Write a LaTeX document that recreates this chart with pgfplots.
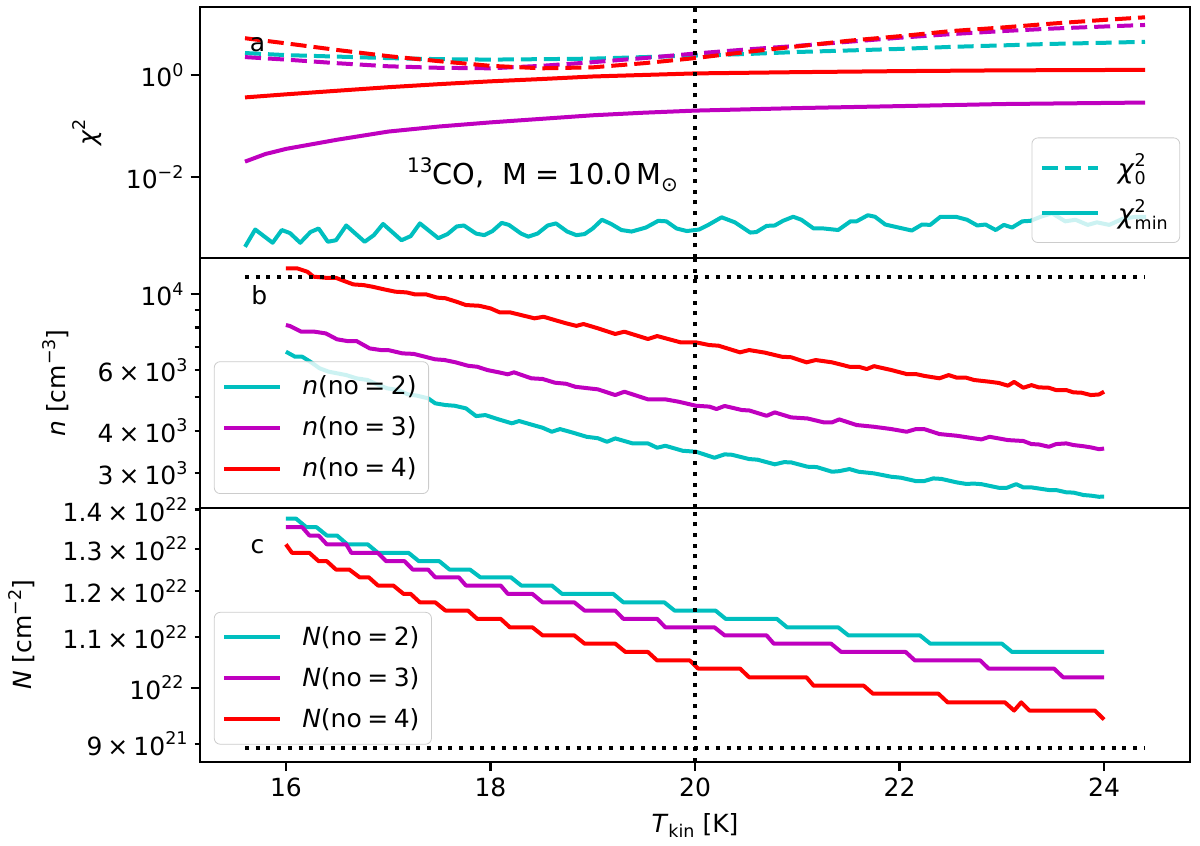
\documentclass[border=0pt]{standalone}
\usepackage{fontspec}
\setmainfont{DejaVu Sans}
\usepackage{pgfplots}
\pgfplotsset{compat=1.18}
\definecolor{mc}{rgb}{0,0.75,0.75}
\definecolor{mm}{rgb}{0.75,0,0.75}
\definecolor{mr}{rgb}{1,0,0}
\newcommand{\su}[1]{\raisebox{0.42em}{\fontsize{8.75}{9}\selectfont #1}}
\newcommand{\sd}[1]{\raisebox{-0.22em}{\fontsize{8.75}{9}\selectfont #1}}
\pgfplotsset{
  mypanel/.style={
    scale only axis, width=495pt,
    xmin=15.16, xmax=24.84,
    axis line style={line width=1.07pt},
    every tick/.style={black, line width=1.07pt},
    major tick length=4.7pt, minor tick length=2.7pt,
    tick align=outside, xtick pos=lower, ytick pos=left,
    legend cell align=left,
    legend image code/.code={\draw[##1] (0pt,0pt) -- (28pt,0pt);},
    legend style={draw=black!20, fill=white, fill opacity=0.8, text opacity=1,
      rounded corners=3pt, inner xsep=4pt, inner ysep=5pt, row sep=5.5pt, column sep=8pt},
  },
}
\tikzset{
  dl/.style={line width=2pt, dash pattern=on 8pt off 3.5pt},
  sl/.style={line width=2pt, line join=round},
  dt/.style={black, line width=2pt, dash pattern=on 2pt off 3.35pt},
}
\begin{document}
\begin{tikzpicture}[font=\fontsize{12.5}{15}\selectfont]
\path[use as bounding box] (0,0) rectangle (600pt,423pt);
% ---------------- panel a ----------------
\begin{axis}[ymode=log, mypanel, at={(100pt,294pt)}, height=125.5pt,
  ymin=2.58e-4, ymax=21.5, xtick=\empty,
  ytick={0.01,1}, yticklabels={10\su{−2},10\su{0}},
  ylabel={\textit{χ}\su{2}},
  ylabel style={at={(axis description cs:-0.114,0.5)}, anchor=center},
  legend style={at={(0.990,0.06)}, anchor=south east, row sep=5pt, inner ysep=6pt, column sep=7pt,
    font=\fontsize{13.5}{16}\selectfont}]
\addplot[mc, dl] coordinates {(15.6,2.69)(16.0,2.45)(16.5,2.29)(17.0,2.14)(17.5,2.04)(18.0,2.00)(18.5,2.04)(19.0,2.09)(19.5,2.24)(20.0,2.40)(20.5,2.57)(21.0,2.82)(21.5,3.02)(22.0,3.24)(22.5,3.55)(23.0,3.80)(23.5,4.07)(24.0,4.27)(24.4,4.47)};
\addlegendentry{\textit{χ}\rlap{\su{2}}\sd{0}}
\addplot[mc, sl] coordinates {(15.60,4.27e-4)(15.70,9.33e-4)(15.87,5.13e-4)(15.96,9.12e-4)(16.04,7.94e-4)(16.14,5.13e-4)(16.24,8.32e-4)(16.32,9.77e-4)(16.41,5.37e-4)(16.49,5.75e-4)(16.59,1.12e-3)(16.77,5.37e-4)(16.86,7.24e-4)(16.95,1.20e-3)(17.13,5.75e-4)(17.22,6.92e-4)(17.31,1.23e-3)(17.49,6.31e-4)(17.58,7.59e-4)(17.67,1.07e-3)(17.74,1.12e-3)(17.86,7.76e-4)(17.94,7.24e-4)(18.02,8.71e-4)(18.11,1.26e-3)(18.18,1.15e-3)(18.30,7.76e-4)(18.37,6.76e-4)(18.46,7.76e-4)(18.56,1.12e-3)(18.64,1.23e-3)(18.75,8.51e-4)(18.84,7.24e-4)(18.92,7.59e-4)(19.00,9.77e-4)(19.09,1.45e-3)(19.18,1.20e-3)(19.28,9.12e-4)(19.38,8.51e-4)(19.52,1.02e-3)(19.64,1.38e-3)(19.72,1.35e-3)(19.82,9.77e-4)(19.92,8.71e-4)(20.04,9.33e-4)(20.13,1.15e-3)(20.26,1.62e-3)(20.39,1.29e-3)(20.54,8.13e-4)(20.60,8.32e-4)(20.70,1.10e-3)(20.78,1.12e-3)(20.86,1.38e-3)(20.96,1.66e-3)(21.04,1.45e-3)(21.16,9.77e-4)(21.26,9.77e-4)(21.40,9.12e-4)(21.52,1.35e-3)(21.58,1.35e-3)(21.69,1.78e-3)(21.76,1.66e-3)(21.86,1.17e-3)(21.99,1.02e-3)(22.12,8.91e-4)(22.22,1.17e-3)(22.30,1.15e-3)(22.40,1.66e-3)(22.55,1.66e-3)(22.66,1.45e-3)(22.76,1.12e-3)(22.84,1.17e-3)(22.94,9.12e-4)(23.02,1.15e-3)(23.10,1.02e-3)(23.20,1.35e-3)(23.28,1.38e-3)(23.38,1.66e-3)(23.49,1.95e-3)(23.62,1.35e-3)(23.72,1.45e-3)(23.84,1.15e-3)(23.93,1.29e-3)(24.05,1.15e-3)(24.18,1.51e-3)(24.31,1.66e-3)(24.41,1.66e-3)};
\addlegendentry{\textit{χ}\rlap{\su{2}}\sd{min}}
\addplot[mm, dl, forget plot] coordinates {(15.6,2.24)(16.0,2.00)(16.5,1.70)(17.0,1.48)(17.5,1.38)(18.0,1.35)(18.5,1.51)(19.0,1.78)(19.5,2.14)(20.0,2.63)(20.5,3.16)(21.0,3.72)(21.5,4.47)(22.0,5.37)(22.5,6.31)(23.0,7.24)(23.5,8.13)(24.0,8.91)(24.4,9.55)};
\addplot[mm, sl, forget plot] coordinates {(15.6,0.0200)(15.8,0.0282)(16.0,0.0355)(16.5,0.0537)(17.0,0.0776)(17.5,0.0977)(18.0,0.1175)(18.5,0.138)(19.0,0.162)(19.5,0.182)(20.0,0.200)(21.0,0.224)(22.0,0.245)(23.0,0.269)(24.4,0.288)};
\addplot[mr, dl, forget plot] coordinates {(15.6,5.25)(16.0,4.17)(16.5,3.09)(17.0,2.34)(17.5,1.86)(18.0,1.51)(18.5,1.35)(19.0,1.41)(19.5,1.70)(20.0,2.14)(20.5,2.82)(21.0,3.63)(21.5,4.68)(22.0,5.75)(22.5,7.24)(23.0,8.51)(23.5,10.2)(24.0,12.0)(24.4,13.5)};
\addplot[mr, sl, forget plot] coordinates {(15.6,0.363)(16.0,0.417)(16.5,0.490)(17.0,0.575)(17.5,0.661)(18.0,0.750)(18.5,0.832)(19.0,0.933)(19.5,1.0)(20.0,1.072)(21.0,1.135)(22.0,1.189)(23.0,1.230)(24.4,1.259)};
\addplot[dt, forget plot] coordinates {(20,2.58e-4)(20,21.5)};
\node[anchor=base west, font=\fontsize{14.4}{17}\selectfont] at (axis description cs:0.202,0.291) {\raisebox{0.42em}{\fontsize{10}{11}\selectfont 13}CO,\ \ M\hspace{0.28em}=\hspace{0.28em}10.0\hspace{0.15em}M\raisebox{-0.22em}{\fontsize{10}{11}\selectfont ⊙}};
\node at (axis description cs:0.058,0.849) {a};
\end{axis}
% ---------------- panel b ----------------
\begin{axis}[ymode=log, mypanel, at={(100pt,169pt)}, height=125pt,
  ymin=2377, ymax=12770, xtick=\empty,
  ytick={10000}, yticklabels={10\su{4}},
  minor ytick={5000,7000,8000,9000},
  extra y ticks={3000,4000,6000},
  extra y tick labels={3\hspace{0.2em}×\hspace{0.2em}10\su{3},4\hspace{0.2em}×\hspace{0.2em}10\su{3},6\hspace{0.2em}×\hspace{0.2em}10\su{3}},
  extra y tick style={major tick length=2.7pt},
  ylabel={\textit{n} [cm\su{−3}]},
  ylabel style={at={(axis description cs:-0.146,0.5)}, anchor=center},
  legend style={at={(0.014,0.056)}, anchor=south west}]
\addplot[mc, sl] coordinates {(16.0,6800)(16.09,6573)(16.16,6573)(16.24,6353)(16.33,6079)(16.42,5943)(16.50,5880)(16.59,5810)(16.69,5685)(16.80,5620)(16.89,5460)(16.99,5315)(17.10,5253)(17.19,5105)(17.28,5060)(17.39,4970)(17.46,4805)(17.56,4750)(17.65,4727)(17.76,4645)(17.86,4410)(17.95,4440)(18.08,4313)(18.21,4200)(18.28,4266)(18.40,4165)(18.51,4077)(18.60,3969)(18.68,4041)(18.81,3942)(18.94,3837)(19.05,3800)(19.14,3710)(19.22,3796)(19.39,3670)(19.54,3670)(19.63,3564)(19.71,3612)(19.88,3492)(20.01,3470)(20.19,3332)(20.29,3409)(20.36,3400)(20.53,3303)(20.61,3290)(20.78,3188)(20.87,3235)(20.94,3230)(21.10,3137)(21.19,3130)(21.34,3033)(21.41,3045)(21.51,3088)(21.60,3033)(21.75,3000)(21.92,2932)(22.01,2915)(22.16,2848)(22.24,2848)(22.33,2900)(22.41,2890)(22.56,2823)(22.65,2795)(22.73,2800)(22.80,2790)(22.97,2723)(23.05,2723)(23.14,2790)(23.21,2730)(23.29,2730)(23.46,2682)(23.53,2682)(23.63,2641)(23.70,2636)(23.80,2593)(23.87,2583)(23.95,2563)(24.0,2565)};
\addlegendentry{\textit{n}(no\hspace{0.22em}=\hspace{0.22em}2)}
\addplot[mm, sl] coordinates {(16.0,8135)(16.04,8080)(16.15,7780)(16.28,7780)(16.39,7690)(16.50,7390)(16.60,7305)(16.69,7305)(16.82,6950)(16.93,6875)(17.0,6875)(17.14,6723)(17.25,6700)(17.36,6573)(17.46,6460)(17.55,6430)(17.66,6330)(17.78,6187)(17.87,6145)(17.97,6010)(18.08,5920)(18.17,5840)(18.23,5920)(18.33,5780)(18.40,5685)(18.51,5660)(18.63,5520)(18.74,5480)(18.83,5370)(18.96,5315)(19.05,5279)(19.22,5080)(19.31,5195)(19.54,4935)(19.71,4935)(19.84,4857)(20.01,4727)(20.14,4700)(20.21,4624)(20.29,4720)(20.46,4592)(20.53,4580)(20.70,4418)(20.78,4521)(20.94,4371)(21.10,4340)(21.26,4227)(21.34,4227)(21.41,4313)(21.58,4152)(21.75,4104)(21.92,4041)(22.07,3969)(22.16,4041)(22.24,4041)(22.39,3908)(22.56,3864)(22.73,3796)(22.80,3770)(22.88,3837)(23.06,3753)(23.21,3730)(23.29,3653)(23.36,3645)(23.46,3587)(23.53,3653)(23.63,3670)(23.70,3630)(23.80,3600)(23.87,3573)(23.95,3530)(24.0,3545)};
\addlegendentry{\textit{n}(no\hspace{0.22em}=\hspace{0.22em}3)}
\addplot[mr, sl] coordinates {(16.0,11910)(16.11,11910)(16.21,11640)(16.27,11260)(16.40,11170)(16.49,11170)(16.59,10880)(16.66,10690)(16.76,10640)(16.85,10520)(16.96,10340)(17.07,10180)(17.18,10130)(17.26,10000)(17.37,10000)(17.48,9780)(17.56,9740)(17.67,9510)(17.76,9305)(17.89,9260)(18.0,9100)(18.09,8860)(18.19,8860)(18.30,8700)(18.43,8510)(18.52,8600)(18.63,8410)(18.74,8230)(18.84,8090)(18.91,8190)(19.05,7960)(19.22,7660)(19.31,7780)(19.54,7405)(19.63,7555)(19.86,7240)(20.01,7240)(20.14,7110)(20.23,7080)(20.44,6770)(20.53,6875)(20.68,6760)(20.85,6573)(20.94,6550)(21.09,6330)(21.18,6430)(21.34,6330)(21.51,6145)(21.60,6145)(21.68,6050)(21.75,6170)(21.92,6010)(22.07,5850)(22.16,5850)(22.24,5780)(22.39,5685)(22.48,5810)(22.56,5710)(22.65,5710)(22.73,5620)(22.88,5556)(22.97,5510)(23.06,5410)(23.12,5550)(23.21,5335)(23.29,5430)(23.36,5350)(23.46,5335)(23.53,5253)(23.63,5253)(23.70,5173)(23.78,5160)(23.87,5080)(23.95,5100)(24.0,5195)};
\addlegendentry{\textit{n}(no\hspace{0.22em}=\hspace{0.22em}4)}
\addplot[dt, forget plot] coordinates {(15.6,11256)(24.4,11256)};
\addplot[dt, forget plot] coordinates {(20,2377)(20,12770)};
\node at (axis description cs:0.060,0.852) {b};
\end{axis}
% ---------------- panel c ----------------
\begin{axis}[ymode=log, mypanel, at={(100pt,42pt)}, height=127pt,
  ymin=8.70e21, ymax=1.405e22,
  xtick={16,18,20,22,24}, xticklabels={16,18,20,22,24},
  ytick={1e22}, yticklabels={10\su{22}},
  extra y ticks={9e21,1.1e22,1.2e22,1.3e22,1.4e22},
  extra y tick labels={9\hspace{0.2em}×\hspace{0.2em}10\su{21},1.1\hspace{0.2em}×\hspace{0.2em}10\su{22},1.2\hspace{0.2em}×\hspace{0.2em}10\su{22},1.3\hspace{0.2em}×\hspace{0.2em}10\su{22},1.4\hspace{0.2em}×\hspace{0.2em}10\su{22}},
  extra y tick style={major tick length=2.7pt},
  ylabel={\textit{N} [cm\su{−2}]},
  ylabel style={at={(axis description cs:-0.180,0.5)}, anchor=center},
  xlabel={\textit{T}\sd{kin} [K]},
  xlabel style={at={(axis description cs:0.5,-0.252)}, anchor=center},
  legend style={at={(0.014,0.067)}, anchor=south west}]
\addplot[mc, sl] coordinates {(16.0,1.376e22)(16.1,1.376e22)(16.2,1.354e22)(16.3,1.354e22)(16.4,1.333e22)(16.5,1.333e22)(16.6,1.311e22)(16.8,1.311e22)(16.9,1.290e22)(17.2,1.290e22)(17.3,1.270e22)(17.5,1.270e22)(17.6,1.250e22)(17.8,1.250e22)(17.9,1.232e22)(18.2,1.232e22)(18.3,1.213e22)(18.6,1.213e22)(18.7,1.194e22)(19.2,1.194e22)(19.3,1.175e22)(19.7,1.175e22)(19.8,1.157e22)(20.2,1.157e22)(20.3,1.139e22)(20.8,1.139e22)(20.9,1.121e22)(21.4,1.121e22)(21.5,1.104e22)(22.2,1.104e22)(22.3,1.087e22)(23.0,1.087e22)(23.1,1.070e22)(24.0,1.070e22)};
\addlegendentry{\textit{N}(no\hspace{0.22em}=\hspace{0.22em}2)}
\addplot[mm, sl] coordinates {(16.0,1.354e22)(16.16,1.354e22)(16.23,1.333e22)(16.32,1.333e22)(16.40,1.311e22)(16.59,1.311e22)(16.64,1.290e22)(16.90,1.290e22)(16.98,1.270e22)(17.16,1.270e22)(17.24,1.250e22)(17.39,1.250e22)(17.46,1.232e22)(17.69,1.232e22)(17.76,1.213e22)(18.10,1.213e22)(18.17,1.194e22)(18.41,1.194e22)(18.51,1.175e22)(18.82,1.175e22)(18.92,1.157e22)(19.22,1.157e22)(19.30,1.139e22)(19.63,1.139e22)(19.71,1.121e22)(20.19,1.121e22)(20.29,1.104e22)(20.70,1.104e22)(20.77,1.087e22)(21.33,1.087e22)(21.43,1.070e22)(22.06,1.070e22)(22.15,1.053e22)(22.79,1.053e22)(22.87,1.037e22)(23.51,1.037e22)(23.60,1.020e22)(24.0,1.020e22)};
\addlegendentry{\textit{N}(no\hspace{0.22em}=\hspace{0.22em}3)}
\addplot[mr, sl] coordinates {(16.0,1.311e22)(16.06,1.290e22)(16.23,1.290e22)(16.32,1.270e22)(16.40,1.270e22)(16.49,1.250e22)(16.62,1.250e22)(16.72,1.232e22)(16.81,1.232e22)(16.90,1.213e22)(17.05,1.213e22)(17.15,1.194e22)(17.22,1.194e22)(17.31,1.175e22)(17.46,1.175e22)(17.56,1.157e22)(17.78,1.157e22)(17.87,1.139e22)(18.10,1.139e22)(18.19,1.121e22)(18.41,1.121e22)(18.51,1.104e22)(18.82,1.104e22)(18.92,1.087e22)(19.22,1.087e22)(19.32,1.070e22)(19.54,1.070e22)(19.63,1.053e22)(19.95,1.053e22)(20.03,1.037e22)(20.44,1.037e22)(20.53,1.020e22)(21.09,1.020e22)(21.16,1.004e22)(21.65,1.004e22)(21.74,0.989e22)(22.38,0.989e22)(22.47,0.973e22)(23.03,0.973e22)(23.12,0.958e22)(23.19,0.973e22)(23.27,0.958e22)(23.91,0.958e22)(24.0,0.942e22)};
\addlegendentry{\textit{N}(no\hspace{0.22em}=\hspace{0.22em}4)}
\addplot[dt, forget plot] coordinates {(15.6,8.93e21)(24.4,8.93e21)};
\addplot[dt, forget plot] coordinates {(20,8.70e21)(20,1.405e22)};
\node at (axis description cs:0.058,0.846) {c};
\end{axis}
\end{tikzpicture}
\end{document}
